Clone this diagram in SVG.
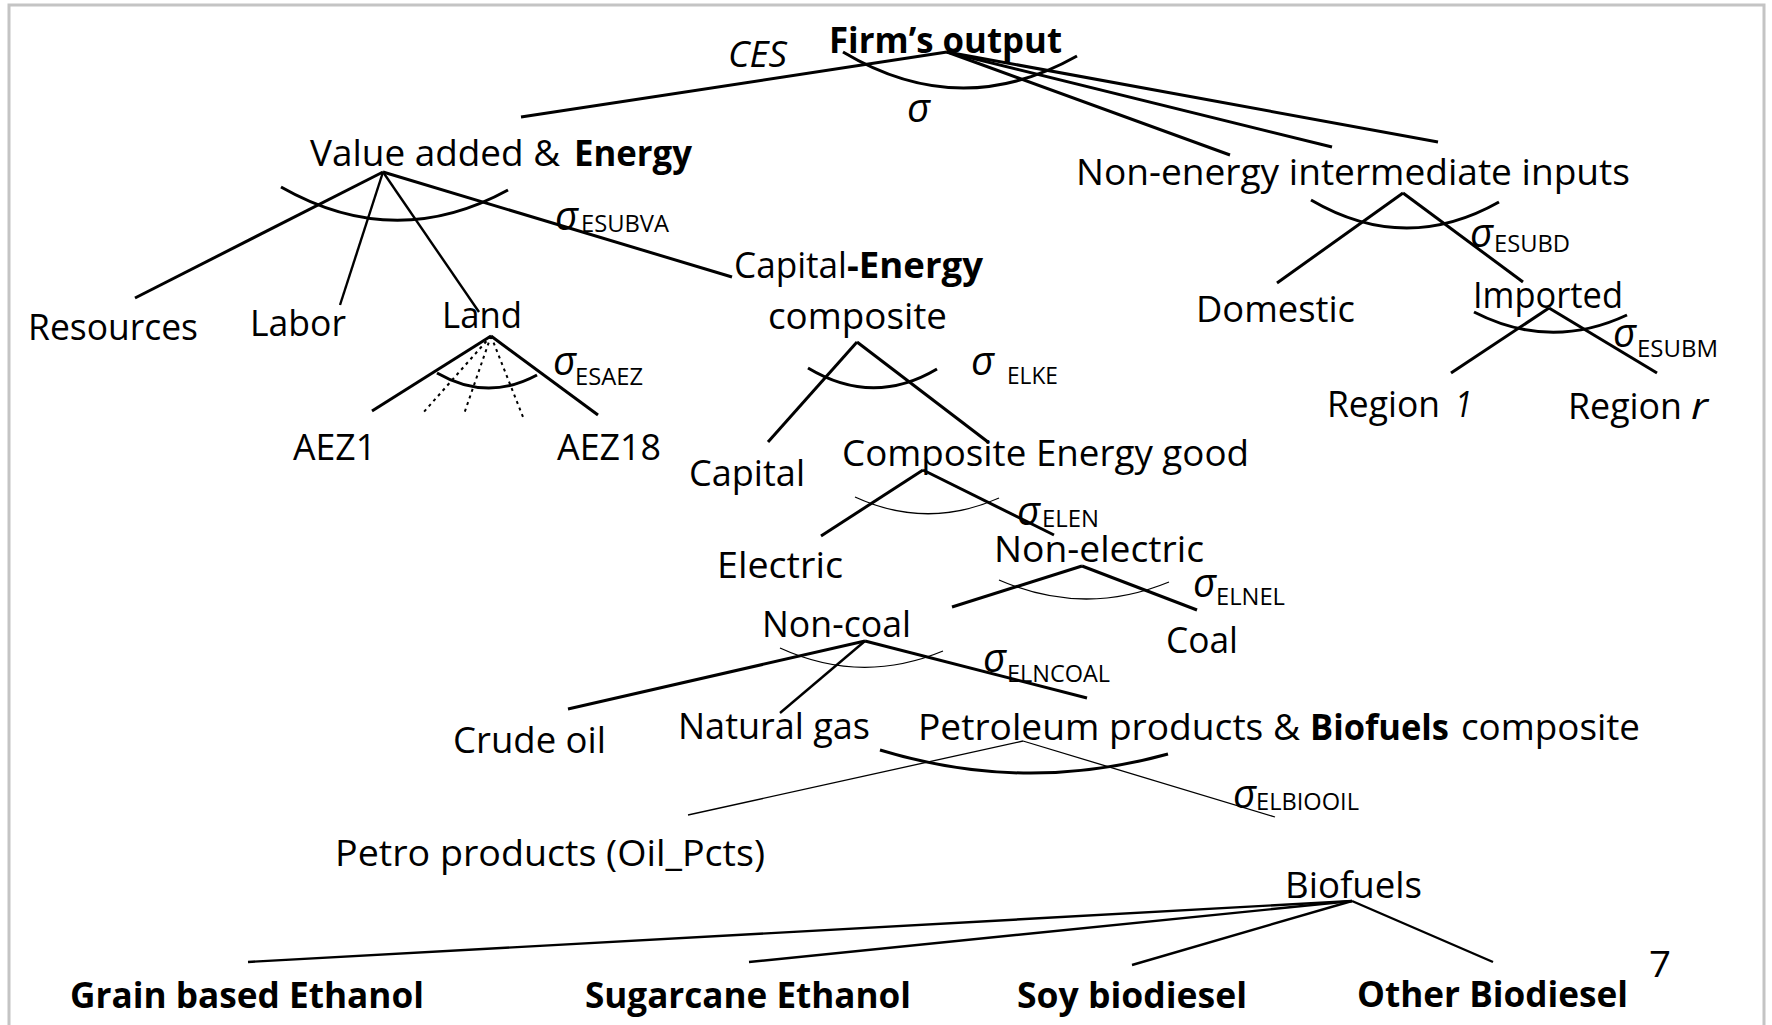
<svg xmlns="http://www.w3.org/2000/svg" width="1772" height="1025" viewBox="0 0 1772 1025">
<style>
text{font-family:'Open Sans','Noto Sans','Liberation Sans',sans-serif;font-size:36px;fill:#000}
.b{font-weight:bold}
.i{font-style:italic}
.sub{font-size:23px}
.sig{font-style:italic;font-size:40px}
.ln{stroke:#000;stroke-width:3;fill:none;stroke-linecap:butt}
.md{stroke:#000;stroke-width:2.4;fill:none}
.th{stroke:#000;stroke-width:1.3;fill:none}
.dt{stroke:#000;stroke-width:2;fill:none;stroke-dasharray:3 4}
</style>
<rect width="1772" height="1025" fill="#fff"/>
<path d="M9,1025 V5 H1764 V1025" fill="none" stroke="#c4c4c4" stroke-width="3"/>

<g id="connectors">
  <line class="ln" x1="947" y1="52" x2="521" y2="117"/>
  <line class="ln" x1="947" y1="52" x2="1230" y2="155"/>
  <line class="ln" x1="947" y1="52" x2="1332" y2="147"/>
  <line class="ln" x1="947" y1="52" x2="1438" y2="142"/>
  <path class="ln" d="M843,52 Q960,122 1077,56"/>
  <line class="ln" x1="383" y1="172" x2="135" y2="298"/>
  <line class="md" x1="383" y1="172" x2="340" y2="305"/>
  <line class="md" x1="383" y1="172" x2="479" y2="312"/>
  <line class="ln" x1="383" y1="172" x2="732" y2="277"/>
  <path class="ln" d="M281,187 Q395,252 508,190"/>
  <line class="ln" x1="491" y1="336" x2="372" y2="411"/>
  <line class="ln" x1="491" y1="336" x2="598" y2="415"/>
  <line class="dt" x1="491" y1="336" x2="423" y2="413"/>
  <line class="dt" x1="491" y1="336" x2="464" y2="414"/>
  <line class="dt" x1="491" y1="336" x2="523" y2="417"/>
  <path class="ln" d="M437,373 Q487,402 537,375"/>
  <line class="ln" x1="857" y1="342" x2="768" y2="442"/>
  <line class="ln" x1="857" y1="342" x2="988" y2="442"/>
  <path class="ln" d="M808,368 Q873,407 937,369"/>
  <line class="ln" x1="923" y1="470" x2="821" y2="536"/>
  <line class="ln" x1="923" y1="470" x2="1054" y2="535"/>
  <path class="th" d="M855,497 Q927,530 999,498"/>
  <line class="ln" x1="1082" y1="566" x2="952" y2="607"/>
  <line class="ln" x1="1082" y1="566" x2="1197" y2="610"/>
  <path class="th" d="M999,580 Q1084,617 1169,582"/>
  <line class="ln" x1="865" y1="641" x2="568" y2="709"/>
  <line class="md" x1="865" y1="641" x2="780" y2="713"/>
  <line class="ln" x1="865" y1="641" x2="1087" y2="698"/>
  <path class="th" d="M780,648 Q861,685 943,651"/>
  <line class="th" x1="1023" y1="741" x2="688" y2="815"/>
  <line class="th" x1="1023" y1="741" x2="1275" y2="817"/>
  <path class="ln" d="M880,750 Q1024,794 1168,754"/>
  <line class="ln" x1="1403" y1="193" x2="1277" y2="283"/>
  <line class="ln" x1="1403" y1="193" x2="1523" y2="282"/>
  <path class="ln" d="M1311,200 Q1405,255 1499,202"/>
  <line class="ln" x1="1549" y1="308" x2="1451" y2="373"/>
  <line class="ln" x1="1549" y1="308" x2="1657" y2="373"/>
  <path class="ln" d="M1474,312 Q1550,351 1627,315"/>
  <line class="md" x1="1352" y1="901" x2="248" y2="962"/>
  <line class="md" x1="1352" y1="901" x2="749" y2="962"/>
  <line class="md" x1="1352" y1="901" x2="1132" y2="965"/>
  <line class="md" x1="1352" y1="901" x2="1493" y2="962"/>
</g>

<g id="firm-output">
  <text class="i" x="728" y="67" textLength="59" lengthAdjust="spacingAndGlyphs">CES</text>
  <text class="b" x="829" y="53" textLength="233" lengthAdjust="spacingAndGlyphs">Firm’s output</text>
  <text class="sig" x="907" y="122">σ</text>
</g>
<g id="value-added-energy">
  <text x="310" y="166" textLength="250" lengthAdjust="spacingAndGlyphs">Value added &amp;</text>
  <text class="b" x="574" y="166" textLength="118" lengthAdjust="spacingAndGlyphs">Energy</text>
  <text class="sig" x="555" y="230">σ</text>
  <text class="sub" x="581" y="232" textLength="88" lengthAdjust="spacingAndGlyphs">ESUBVA</text>
</g>
<g id="resources"><text x="28" y="340" textLength="170" lengthAdjust="spacingAndGlyphs">Resources</text></g>
<g id="labor"><text x="250" y="336" textLength="96" lengthAdjust="spacingAndGlyphs">Labor</text></g>
<g id="land">
  <text x="442" y="328" textLength="80" lengthAdjust="spacingAndGlyphs">Land</text>
  <text class="sig" x="553" y="375">σ</text>
  <text class="sub" x="575" y="385" textLength="68" lengthAdjust="spacingAndGlyphs">ESAEZ</text>
</g>
<g id="aez1"><text x="293" y="460" textLength="83" lengthAdjust="spacingAndGlyphs">AEZ1</text></g>
<g id="aez18"><text x="557" y="460" textLength="104" lengthAdjust="spacingAndGlyphs">AEZ18</text></g>
<g id="capital-energy-composite">
  <text x="734" y="278" textLength="113" lengthAdjust="spacingAndGlyphs">Capital</text>
  <text class="b" x="847" y="278" textLength="136" lengthAdjust="spacingAndGlyphs">-Energy</text>
  <text x="768" y="329" textLength="179" lengthAdjust="spacingAndGlyphs">composite</text>
  <text class="sig" x="971" y="375">σ</text>
  <text class="sub" x="1007" y="384" textLength="51" lengthAdjust="spacingAndGlyphs">ELKE</text>
</g>
<g id="capital"><text x="689" y="486" textLength="116" lengthAdjust="spacingAndGlyphs">Capital</text></g>
<g id="composite-energy-good">
  <text x="842" y="466" textLength="407" lengthAdjust="spacingAndGlyphs">Composite Energy good</text>
  <text class="sig" x="1017" y="525">σ</text>
  <text class="sub" x="1042" y="527" textLength="57" lengthAdjust="spacingAndGlyphs">ELEN</text>
</g>
<g id="electric"><text x="717" y="578" textLength="126" lengthAdjust="spacingAndGlyphs">Electric</text></g>
<g id="non-electric">
  <text x="994" y="562" textLength="210" lengthAdjust="spacingAndGlyphs">Non-electric</text>
  <text class="sig" x="1193" y="597">σ</text>
  <text class="sub" x="1216" y="605" textLength="69" lengthAdjust="spacingAndGlyphs">ELNEL</text>
</g>
<g id="coal"><text x="1166" y="653" textLength="72" lengthAdjust="spacingAndGlyphs">Coal</text></g>
<g id="non-coal">
  <text x="762" y="637" textLength="149" lengthAdjust="spacingAndGlyphs">Non-coal</text>
  <text class="sig" x="983" y="672">σ</text>
  <text class="sub" x="1007" y="682" textLength="103" lengthAdjust="spacingAndGlyphs">ELNCOAL</text>
</g>
<g id="crude-oil"><text x="453" y="753" textLength="153" lengthAdjust="spacingAndGlyphs">Crude oil</text></g>
<g id="natural-gas"><text x="678" y="739" textLength="192" lengthAdjust="spacingAndGlyphs">Natural gas</text></g>
<g id="petroleum-biofuels-composite">
  <text x="918" y="740" textLength="382" lengthAdjust="spacingAndGlyphs">Petroleum products &amp;</text>
  <text class="b" x="1310" y="740" textLength="139" lengthAdjust="spacingAndGlyphs">Biofuels</text>
  <text x="1461" y="740" textLength="179" lengthAdjust="spacingAndGlyphs">composite</text>
  <text class="sig" x="1233" y="808">σ</text>
  <text class="sub" x="1256" y="810" textLength="103" lengthAdjust="spacingAndGlyphs">ELBIOOIL</text>
</g>
<g id="petro-products"><text x="335" y="866" textLength="430" lengthAdjust="spacingAndGlyphs">Petro products (Oil_Pcts)</text></g>
<g id="biofuels"><text x="1285" y="898" textLength="137" lengthAdjust="spacingAndGlyphs">Biofuels</text></g>
<g id="grain-ethanol"><text class="b" x="70" y="1008" textLength="354" lengthAdjust="spacingAndGlyphs">Grain based Ethanol</text></g>
<g id="sugarcane-ethanol"><text class="b" x="585" y="1008" textLength="326" lengthAdjust="spacingAndGlyphs">Sugarcane Ethanol</text></g>
<g id="soy-biodiesel"><text class="b" x="1017" y="1008" textLength="230" lengthAdjust="spacingAndGlyphs">Soy biodiesel</text></g>
<g id="other-biodiesel"><text class="b" x="1357" y="1007" textLength="271" lengthAdjust="spacingAndGlyphs">Other Biodiesel</text></g>
<g id="page-number"><text x="1649" y="977" textLength="22" lengthAdjust="spacingAndGlyphs">7</text></g>
<g id="non-energy-intermediate">
  <text x="1076" y="185" textLength="554" lengthAdjust="spacingAndGlyphs">Non-energy intermediate inputs</text>
  <text class="sig" x="1470" y="247">σ</text>
  <text class="sub" x="1494" y="252" textLength="76" lengthAdjust="spacingAndGlyphs">ESUBD</text>
</g>
<g id="domestic"><text x="1196" y="322" textLength="159" lengthAdjust="spacingAndGlyphs">Domestic</text></g>
<g id="imported">
  <text x="1473" y="308" textLength="150" lengthAdjust="spacingAndGlyphs">Imported</text>
  <text class="sig" x="1613" y="347">σ</text>
  <text class="sub" x="1637" y="357" textLength="81" lengthAdjust="spacingAndGlyphs">ESUBM</text>
</g>
<g id="region-1">
  <text x="1327" y="417" textLength="113" lengthAdjust="spacingAndGlyphs">Region</text>
  <text class="i" x="1455" y="417" textLength="17" lengthAdjust="spacingAndGlyphs">1</text>
</g>
<g id="region-r">
  <text x="1568" y="419" textLength="114" lengthAdjust="spacingAndGlyphs">Region</text>
  <text class="i" x="1691" y="419" textLength="17" lengthAdjust="spacingAndGlyphs">r</text>
</g>
</svg>
